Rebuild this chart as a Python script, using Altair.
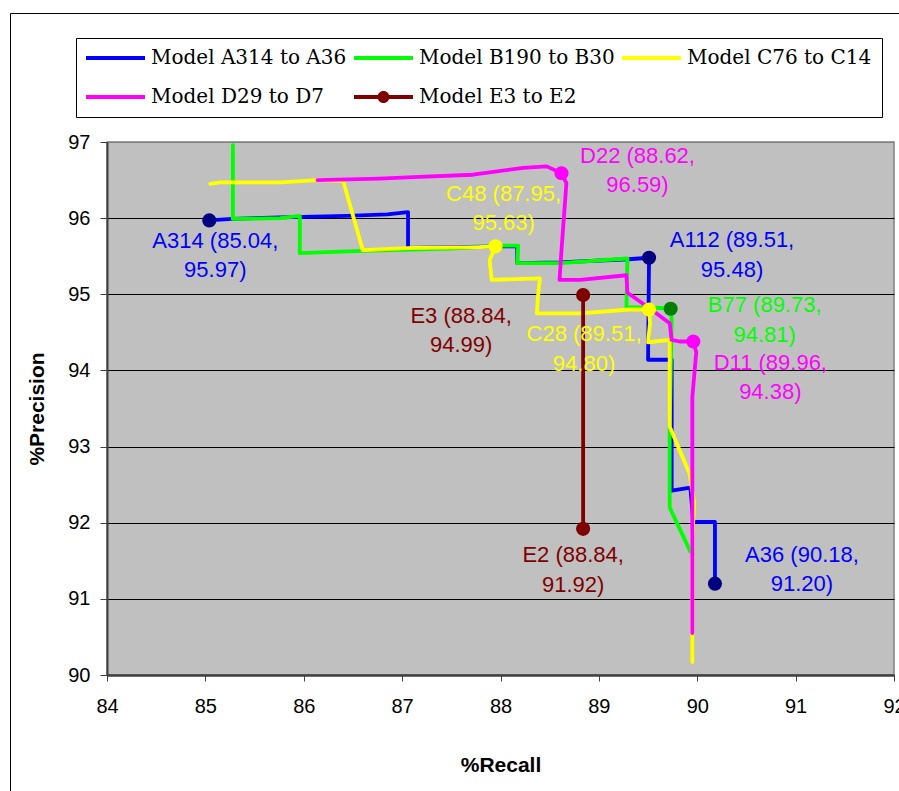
import altair as alt
import pandas as pd

# ---------------- data ----------------
SERIES = ["Model A314 to A36", "Model B190 to B30", "Model C76 to C14",
          "Model D29 to D7", "Model E3 to E2"]
LINE_COLORS = ["#0000FF", "#00FF00", "#FFFF00", "#FF00FF", "#800000"]

A_X = [85.04, 85.27, 85.76, 86.44, 86.85, 87.06, 87.06, 87.50, 88.00, 88.17, 88.17,
       88.60, 89.30, 89.51, 89.50, 89.74, 89.74, 89.93, 89.96, 90.18, 90.18]
A_Y = [95.97, 95.99, 96.01, 96.03, 96.05, 96.08, 95.61, 95.62, 95.63, 95.63, 95.41,
       95.42, 95.46, 95.48, 94.14, 94.14, 92.42, 92.46, 92.01, 92.01, 91.20]

B_X = [85.28, 85.28, 85.76, 85.96, 85.96, 86.60, 87.50, 88.03, 88.18, 88.17, 88.60,
       89.29, 89.28, 89.62, 89.73, 89.74, 89.72, 89.72, 89.93]
B_Y = [96.96, 95.99, 96.00, 96.03, 95.54, 95.57, 95.60, 95.64, 95.64, 95.41, 95.41,
       95.47, 94.83, 94.82, 94.81, 94.66, 93.25, 92.20, 91.62]

C_X = [85.05, 85.15, 85.76, 86.14, 86.40, 86.60, 87.11, 87.79, 87.95, 87.89, 87.91,
       88.40, 88.38, 88.37, 88.81, 89.31, 89.51, 89.52, 89.50, 89.72, 89.72, 89.92,
       89.97, 89.95, 89.95]
C_Y = [96.45, 96.47, 96.47, 96.50, 96.49, 95.58, 95.61, 95.62, 95.63, 95.45, 95.19,
       95.21, 94.96, 94.75, 94.75, 94.80, 94.80, 94.62, 94.37, 94.40, 93.26, 92.65,
       92.26, 91.80, 90.17]

D_X = [86.14, 86.77, 87.11, 87.72, 88.23, 88.47, 88.62, 88.67, 88.62, 88.60, 88.81,
       89.28, 89.29, 89.49, 89.72, 89.74, 89.82, 89.96, 89.99, 89.95, 89.95]
D_Y = [96.50, 96.52, 96.54, 96.57, 96.66, 96.68, 96.59, 96.46, 95.58, 95.19, 95.19,
       95.25, 95.02, 94.84, 94.62, 94.40, 94.38, 94.38, 94.24, 93.65, 90.55]

E_X = [88.84, 88.84]
E_Y = [94.99, 91.92]

POINT_NAMES = ["A314", "A112", "A36", "B77", "C48", "C28", "D22", "D11", "E3", "E2"]
POINT_SERIES = [0, 0, 0, 1, 2, 2, 3, 3, 4, 4]
POINT_X = [85.04, 89.51, 90.18, 89.73, 87.95, 89.51, 88.62, 89.96, 88.84, 88.84]
POINT_Y = [95.97, 95.48, 91.20, 94.81, 95.63, 94.80, 96.59, 94.38, 94.99, 91.92]

# ---------------- styles ----------------
DOT_COLORS = ["#000080", "#000080", "#000080", "#008000", "#FFFF00", "#FFFF00",
              "#FF00FF", "#FF00FF", "#800000", "#800000"]
LABEL_DX = [6, 83, 87, 94, 8, -65, 76, 77, -122, -10]
LABEL_DY = [10.5, -27.5, -39, -13.5, -62.5, 14.5, -27.5, 11.5, 10.5, 16.5]

# legend symbol paths (unit = half the symbol size); drawn from x=-1 to x=4.9
BAR = "M-1,-0.2H4.9V0.2H-1Z"
BAR_DOT = BAR + " M1.35,0A0.6,0.6 0 1,1 2.55,0A0.6,0.6 0 1,1 1.35,0Z"
LEGEND_SHAPES = [BAR, BAR, BAR, BAR, BAR_DOT]

# ---------------- tables ----------------
rows = []
for s, xs, ys, col in zip(SERIES, [A_X, B_X, C_X, D_X, E_X], [A_Y, B_Y, C_Y, D_Y, E_Y],
                          LINE_COLORS):
    for i, (x, y) in enumerate(zip(xs, ys)):
        rows.append({"series": s, "idx": i, "x": x, "y": y, "color": col})
lines_df = pd.DataFrame(rows)

pts_df = pd.DataFrame({
    "name": POINT_NAMES,
    "series": [SERIES[i] for i in POINT_SERIES],
    "x": POINT_X,
    "y": POINT_Y,
    "dot": DOT_COLORS,
    "tcolor": [LINE_COLORS[i] for i in POINT_SERIES],
})
pts_df["label"] = [f"{n} ({x:.2f},\n{y:.2f})" for n, x, y in zip(POINT_NAMES, POINT_X, POINT_Y)]

# ---------------- scales / axes ----------------
xscale = alt.Scale(domain=[84, 92], nice=False, zero=False)
yscale = alt.Scale(domain=[90, 97], nice=False, zero=False)

x_axis = alt.Axis(values=list(range(84, 93)), title="%Recall", grid=False,
                  tickSize=6, tickColor="#404040", domainColor="#404040", domainWidth=2.5,
                  labelFont="Liberation Sans", labelFontSize=20, labelColor="black",
                  labelPadding=15.5, labelFlush=False, labelOverlap=False,
                  titleFont="Liberation Sans", titleFontSize=21, titleFontWeight="bold",
                  titleColor="black", titleX=393.5, titleY=90, titleBaseline="middle",
                  titleAlign="center")
y_axis = alt.Axis(values=list(range(90, 98)), title="%Precision", grid=True,
                  gridColor={"condition": {"test": "datum.value === 97", "value": "#808080"},
                             "value": "black"},
                  gridWidth=1, tickSize=7, tickColor="#404040", domainColor="#404040",
                  domainWidth=2, labelFont="Liberation Sans", labelFontSize=20,
                  labelColor="black", labelPadding=10, labelFlush=False, labelOverlap=False,
                  titleFont="Liberation Sans", titleFontSize=21, titleFontWeight="bold",
                  titleColor="black", titleX=-70, titleY=266.5, titleBaseline="middle",
                  titleAlign="center")

X = alt.X("x:Q", scale=xscale, axis=x_axis)
Y = alt.Y("y:Q", scale=yscale, axis=y_axis)

legend = alt.Legend(title=None, orient="none", legendX=-31, legendY=-104, columns=3,
                    direction="horizontal", labelFont="DejaVu Serif", labelFontSize=20,
                    labelColor="black", labelOffset=45, labelLimit=500,
                    symbolSize=400, symbolStrokeWidth=0, symbolOpacity=1,
                    columnPadding=7, rowPadding=19, padding=10,
                    strokeColor="black", fillColor="white")

lines = alt.Chart(lines_df).mark_line(strokeWidth=3.8, strokeCap="round",
                                      strokeJoin="round").encode(
    x=X, y=Y, color=alt.Color("color:N", scale=None), detail="series:N", order="idx:Q")

legend_pts = alt.Chart(pts_df).mark_point(filled=True, size=1, opacity=1).encode(
    x=X, y=Y,
    color=alt.Color("series:N", scale=alt.Scale(domain=SERIES, range=LINE_COLORS),
                    legend=legend),
    shape=alt.Shape("series:N", scale=alt.Scale(domain=SERIES, range=LEGEND_SHAPES),
                    legend=legend),
)

dots = alt.Chart(pts_df).mark_circle(size=200, opacity=1).encode(
    x=X, y=Y, color=alt.Color("dot:N", scale=None))

texts = []
for i, n in enumerate(POINT_NAMES):
    texts.append(
        alt.Chart(pts_df).transform_filter(alt.datum.name == n).mark_text(
            align="center", baseline="top", dx=LABEL_DX[i], dy=LABEL_DY[i],
            lineBreak="\n", lineHeight=29.5, font="Liberation Sans", fontSize=22
        ).encode(x=X, y=Y, text="label:N", color=alt.Color("tcolor:N", scale=None))
    )

one = pd.DataFrame({"k": [0]})
frame_top = alt.Chart(one).mark_rule(color="black", strokeWidth=1).encode(
    x=alt.value(-96.5), x2=alt.value(800), y=alt.value(-128.5))
frame_left = alt.Chart(one).mark_rule(color="black", strokeWidth=1).encode(
    x=alt.value(-96.5), y=alt.value(-128.5), y2=alt.value(700))

chart = alt.layer(lines, legend_pts, dots, *texts, frame_top, frame_left).properties(
    width=787, height=533,
    autosize=alt.AutoSizeParams(type="none"),
    padding={"left": 107, "top": 142, "right": 5, "bottom": 116},
    background="white",
).configure_view(fill="#C0C0C0", stroke="#808080", strokeWidth=1.5)

chart.save("out.html", embed_options={"renderer": "svg", "actions": False})
